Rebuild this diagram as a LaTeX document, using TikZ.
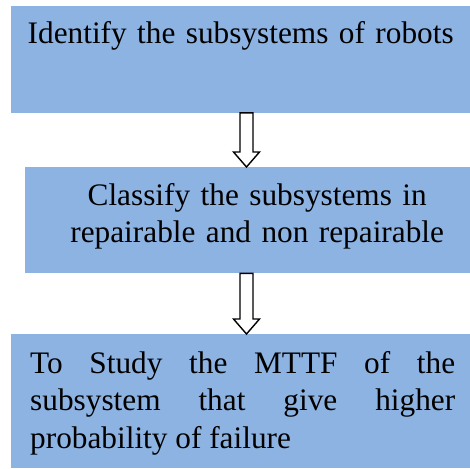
\documentclass[tikz,border=0pt]{standalone}
\usepackage{fontspec}
\setmainfont{Liberation Serif}
\usetikzlibrary{calc}
\definecolor{boxblue}{RGB}{141,179,226}

\begin{document}
\begin{tikzpicture}[x=1pt,y=-1pt,
    stepbox/.style={fill=boxblue,anchor=north west,inner xsep=0pt,inner ysep=0pt,
      font=\fontsize{31.3}{37.5}\selectfont},
    hollow arrow/.style={draw=black,fill=white,line width=1.4pt,line join=miter,
      to path={let \p1=(\tikztostart), \p2=(\tikztotarget) in
        (\x1-6.5pt,\y1) -- (\x1-6.5pt,\y2+15pt) -- (\x1-13pt,\y2+15pt) -- (\x2,\y2)
        -- (\x1+13pt,\y2+15pt) -- (\x1+6.5pt,\y2+15pt) -- (\x1+6.5pt,\y1) -- cycle}}]
  \useasboundingbox (0,0) rectangle (470,468);

  % the three steps
  \node[stepbox,text width=459pt,align=center,text height=37pt,text depth=69.5pt] (b1) at (11,6)
    {Identify the subsystems of robots};
  \node[stepbox,text width=445pt,align=center,text height=38pt,text depth=68pt] (b2) at (25,167)
    {\hspace*{19pt}Classify the subsystems in\\\hspace*{19pt}repairable and non repairable};
  \node[stepbox,inner xsep=19pt,text width=425pt,align=justify,text height=39pt,text depth=95pt] (b3) at (11,334)
    {To Study the MTTF of the\linebreak subsystem that give higher\linebreak probability of failure};

  % hollow arrows between the steps
  \coordinate (ax) at (246.5,0);
  \draw[hollow arrow] (b1.south -| ax) to (b2.north -| ax);
  \draw[hollow arrow] (b2.south -| ax) to (b3.north -| ax);
\end{tikzpicture}
\end{document}
